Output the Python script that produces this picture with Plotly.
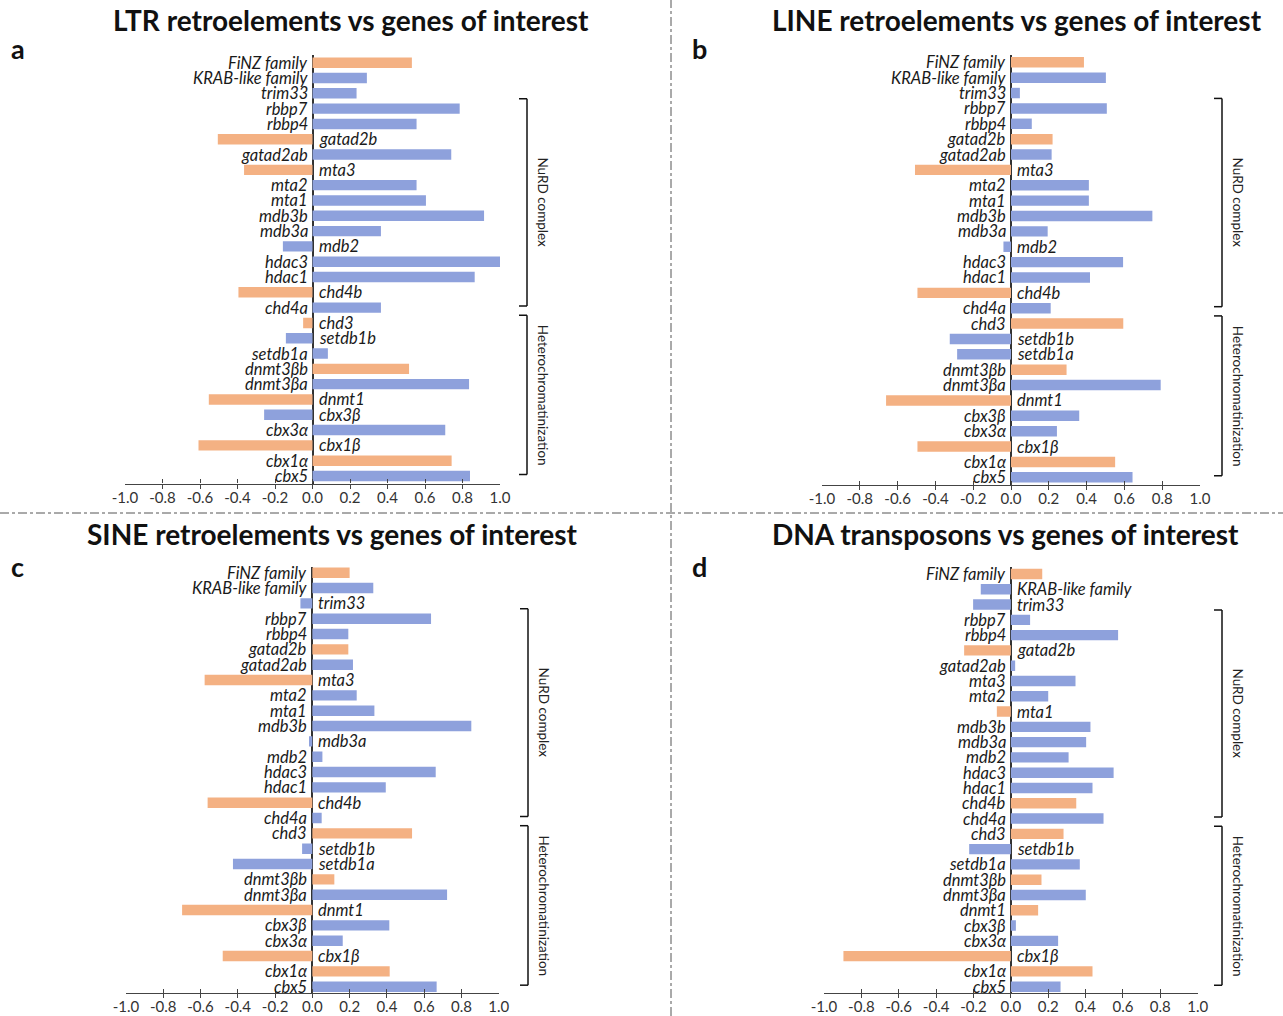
import plotly.graph_objects as go

W, H = 1283, 1016

genes = ["FiNZ family", "KRAB-like family", "trim33", "rbbp7", "rbbp4", "gatad2b",
         "gatad2ab", "mta3", "mta2", "mta1", "mdb3b", "mdb3a", "mdb2", "hdac3", "hdac1",
         "chd4b", "chd4a", "chd3", "setdb1b", "setdb1a", "dnmt3βb", "dnmt3βa", "dnmt1",
         "cbx3β", "cbx3α", "cbx1β", "cbx1α", "cbx5"]

ltr_vals = [0.53, 0.29, 0.235, 0.785, 0.555, -0.505, 0.74, -0.365, 0.555, 0.605, 0.915,
            0.365, -0.158, 1.0, 0.865, -0.395, 0.365, -0.05, -0.142, 0.082, 0.515, 0.835,
            -0.553, -0.258, 0.708, -0.608, 0.742, 0.84]
line_vals = [0.386, 0.502, 0.047, 0.507, 0.11, 0.22, 0.215, -0.508, 0.412, 0.412, 0.748,
             0.194, -0.04, 0.593, 0.418, -0.495, 0.21, 0.594, -0.324, -0.285, 0.294, 0.792,
             -0.661, 0.361, 0.243, -0.495, 0.551, 0.643]
sine_vals = [0.2, 0.327, -0.064, 0.637, 0.193, 0.193, 0.218, -0.578, 0.238, 0.333, 0.853,
             -0.018, 0.054, 0.662, 0.394, -0.562, 0.05, 0.535, -0.055, -0.426, 0.118, 0.723,
             -0.699, 0.413, 0.163, -0.481, 0.415, 0.667]
dna_vals = [0.168, -0.161, -0.202, 0.103, 0.574, -0.25, 0.023, 0.346, 0.2, -0.075, 0.426,
            0.403, 0.309, 0.55, 0.437, 0.35, 0.496, 0.282, -0.223, 0.369, 0.164, 0.401,
            0.146, 0.027, 0.253, -0.896, 0.437, 0.266]

orange_abc = ["FiNZ family", "gatad2b", "mta3", "chd4b", "chd3", "dnmt3βb", "dnmt1", "cbx1β", "cbx1α"]
orange_d = ["FiNZ family", "gatad2b", "mta1", "chd4b", "chd3", "dnmt3βb", "dnmt1", "cbx1β", "cbx1α"]

titles = ["LTR retroelements vs genes of interest", "LINE retroelements vs genes of interest",
          "SINE retroelements vs genes of interest", "DNA transposons vs genes of interest"]
letters = ["a", "b", "c", "d"]
groups = [("NuRD complex", 2.35, 15.9), ("Heterochromatinization", 16.5, 26.9)]
x_ticks = [-1.0, -0.8, -0.6, -0.4, -0.2, 0.0, 0.2, 0.4, 0.6, 0.8, 1.0]

BLUE = "#8EA1DC"
ORANGE = "#F4B183"

panels = [
    dict(vals=ltr_vals, orange=orange_abc, x0=125, x1=500, top=55, bot=483.5, r0=62.7, r1=476,
         tx=351, ty=20, lx=18, ly=48, bx=527),
    dict(vals=line_vals, orange=orange_abc, x0=822, x1=1200, top=55, bot=485, r0=62.3, r1=477.3,
         tx=1017, ty=20, lx=700, ly=48, bx=1222),
    dict(vals=sine_vals, orange=orange_abc, x0=126, x1=498.7, top=567, bot=993, r0=572.7, r1=986.7,
         tx=332, ty=534, lx=17, ly=566, bx=528),
    dict(vals=dna_vals, orange=orange_d, x0=824, x1=1197.7, top=567, bot=993.3, r0=574, r1=986.7,
         tx=1005, ty=534, lx=700, ly=566, bx=1222),
]

FONT = "Lato"
fig = go.Figure()
annotations = []
shapes = []
n = len(genes)

for k, p in enumerate(panels):
    xa = "x" if k == 0 else f"x{k+1}"
    ya = "y" if k == 0 else f"y{k+1}"
    colors = [ORANGE if g in p["orange"] else BLUE for g in genes]
    fig.add_trace(go.Bar(x=p["vals"], y=genes, orientation="h", marker_color=colors,
                         marker_line_width=0, width=0.68, xaxis=xa, yaxis=ya,
                         showlegend=False, hoverinfo="x+y"))
    s = (p["r1"] - p["r0"]) / (n - 1)
    rtop = -(p["r0"] - p["top"]) / s
    rbot = (n - 1) + (p["bot"] - p["r1"]) / s
    xkey = "xaxis" if k == 0 else f"xaxis{k+1}"
    ykey = "yaxis" if k == 0 else f"yaxis{k+1}"
    fig.layout[xkey] = dict(domain=[p["x0"] / W, p["x1"] / W], range=[-1.0, 1.0], anchor=ya,
                            tickvals=x_ticks, ticktext=[f"{t:.1f}" for t in x_ticks],
                            ticks="inside", ticklen=4, tickwidth=1, tickcolor="#444",
                            minor=dict(tickvals=x_ticks, ticks="outside", ticklen=4,
                                       tickwidth=1, tickcolor="#444", showgrid=False),
                            showline=True, linecolor="#444", linewidth=1.2,
                            showgrid=False, zeroline=True, zerolinecolor="#333", zerolinewidth=1.5,
                            tickfont=dict(family=FONT, size=15, color="#333"), fixedrange=True,
                            automargin=False)
    fig.layout[ykey] = dict(domain=[1 - p["bot"] / H, 1 - p["top"] / H], anchor=xa,
                            type="category", categoryorder="array", categoryarray=genes,
                            range=[rbot, rtop], showticklabels=False, showgrid=False,
                            zeroline=False, showline=False, ticks="", fixedrange=True,
                            automargin=False)
    for g, v in zip(genes, p["vals"]):
        annotations.append(dict(x=0, y=g, xref=xa, yref=ya, text=g, showarrow=False,
                                xanchor="right" if v >= 0 else "left",
                                xshift=-3 if v >= 0 else 4,
                                font=dict(family=FONT, size=16.5, color="#1a1a1a", style="italic")))
    annotations.append(dict(x=p["tx"] / W, y=1 - p["ty"] / H, xref="paper", yref="paper",
                            text=f"<b>{titles[k]}</b>", showarrow=False, xanchor="center",
                            yanchor="middle", font=dict(family=FONT, size=28, color="#111")))
    annotations.append(dict(x=p["lx"] / W, y=1 - p["ly"] / H, xref="paper", yref="paper",
                            text=f"<b>{letters[k]}</b>", showarrow=False, xanchor="center",
                            yanchor="middle", font=dict(family=FONT, size=27, color="#111")))
    for name, a, b in groups:
        bx = p["bx"] / W
        tick = 8 / W
        shapes.append(dict(type="line", xref="paper", yref=ya, x0=bx, x1=bx, y0=a, y1=b,
                           line=dict(color="#111", width=1.5)))
        shapes.append(dict(type="line", xref="paper", yref=ya, x0=bx - tick, x1=bx, y0=a, y1=a,
                           line=dict(color="#111", width=1.5)))
        shapes.append(dict(type="line", xref="paper", yref=ya, x0=bx - tick, x1=bx, y0=b, y1=b,
                           line=dict(color="#111", width=1.5)))
        annotations.append(dict(x=(p["bx"] + 16) / W, y=(a + b) / 2, xref="paper", yref=ya,
                                text=name, textangle=90, showarrow=False, xanchor="center",
                                yanchor="middle", font=dict(family=FONT, size=13.5, color="#222")))

shapes.append(dict(type="line", xref="paper", yref="paper", x0=671 / W, x1=671 / W, y0=0, y1=1,
                   line=dict(color="#555", width=1, dash="dashdot")))
shapes.append(dict(type="line", xref="paper", yref="paper", x0=0, x1=1, y0=1 - 513 / H, y1=1 - 513 / H,
                   line=dict(color="#555", width=1, dash="dashdot")))

fig.update_layout(width=W, height=H, margin=dict(l=0, r=0, t=0, b=0, autoexpand=False),
                  paper_bgcolor="white", plot_bgcolor="white",
                  annotations=annotations, shapes=shapes, bargap=0.3,
                  font=dict(family=FONT))
fig.write_html("out.html")
